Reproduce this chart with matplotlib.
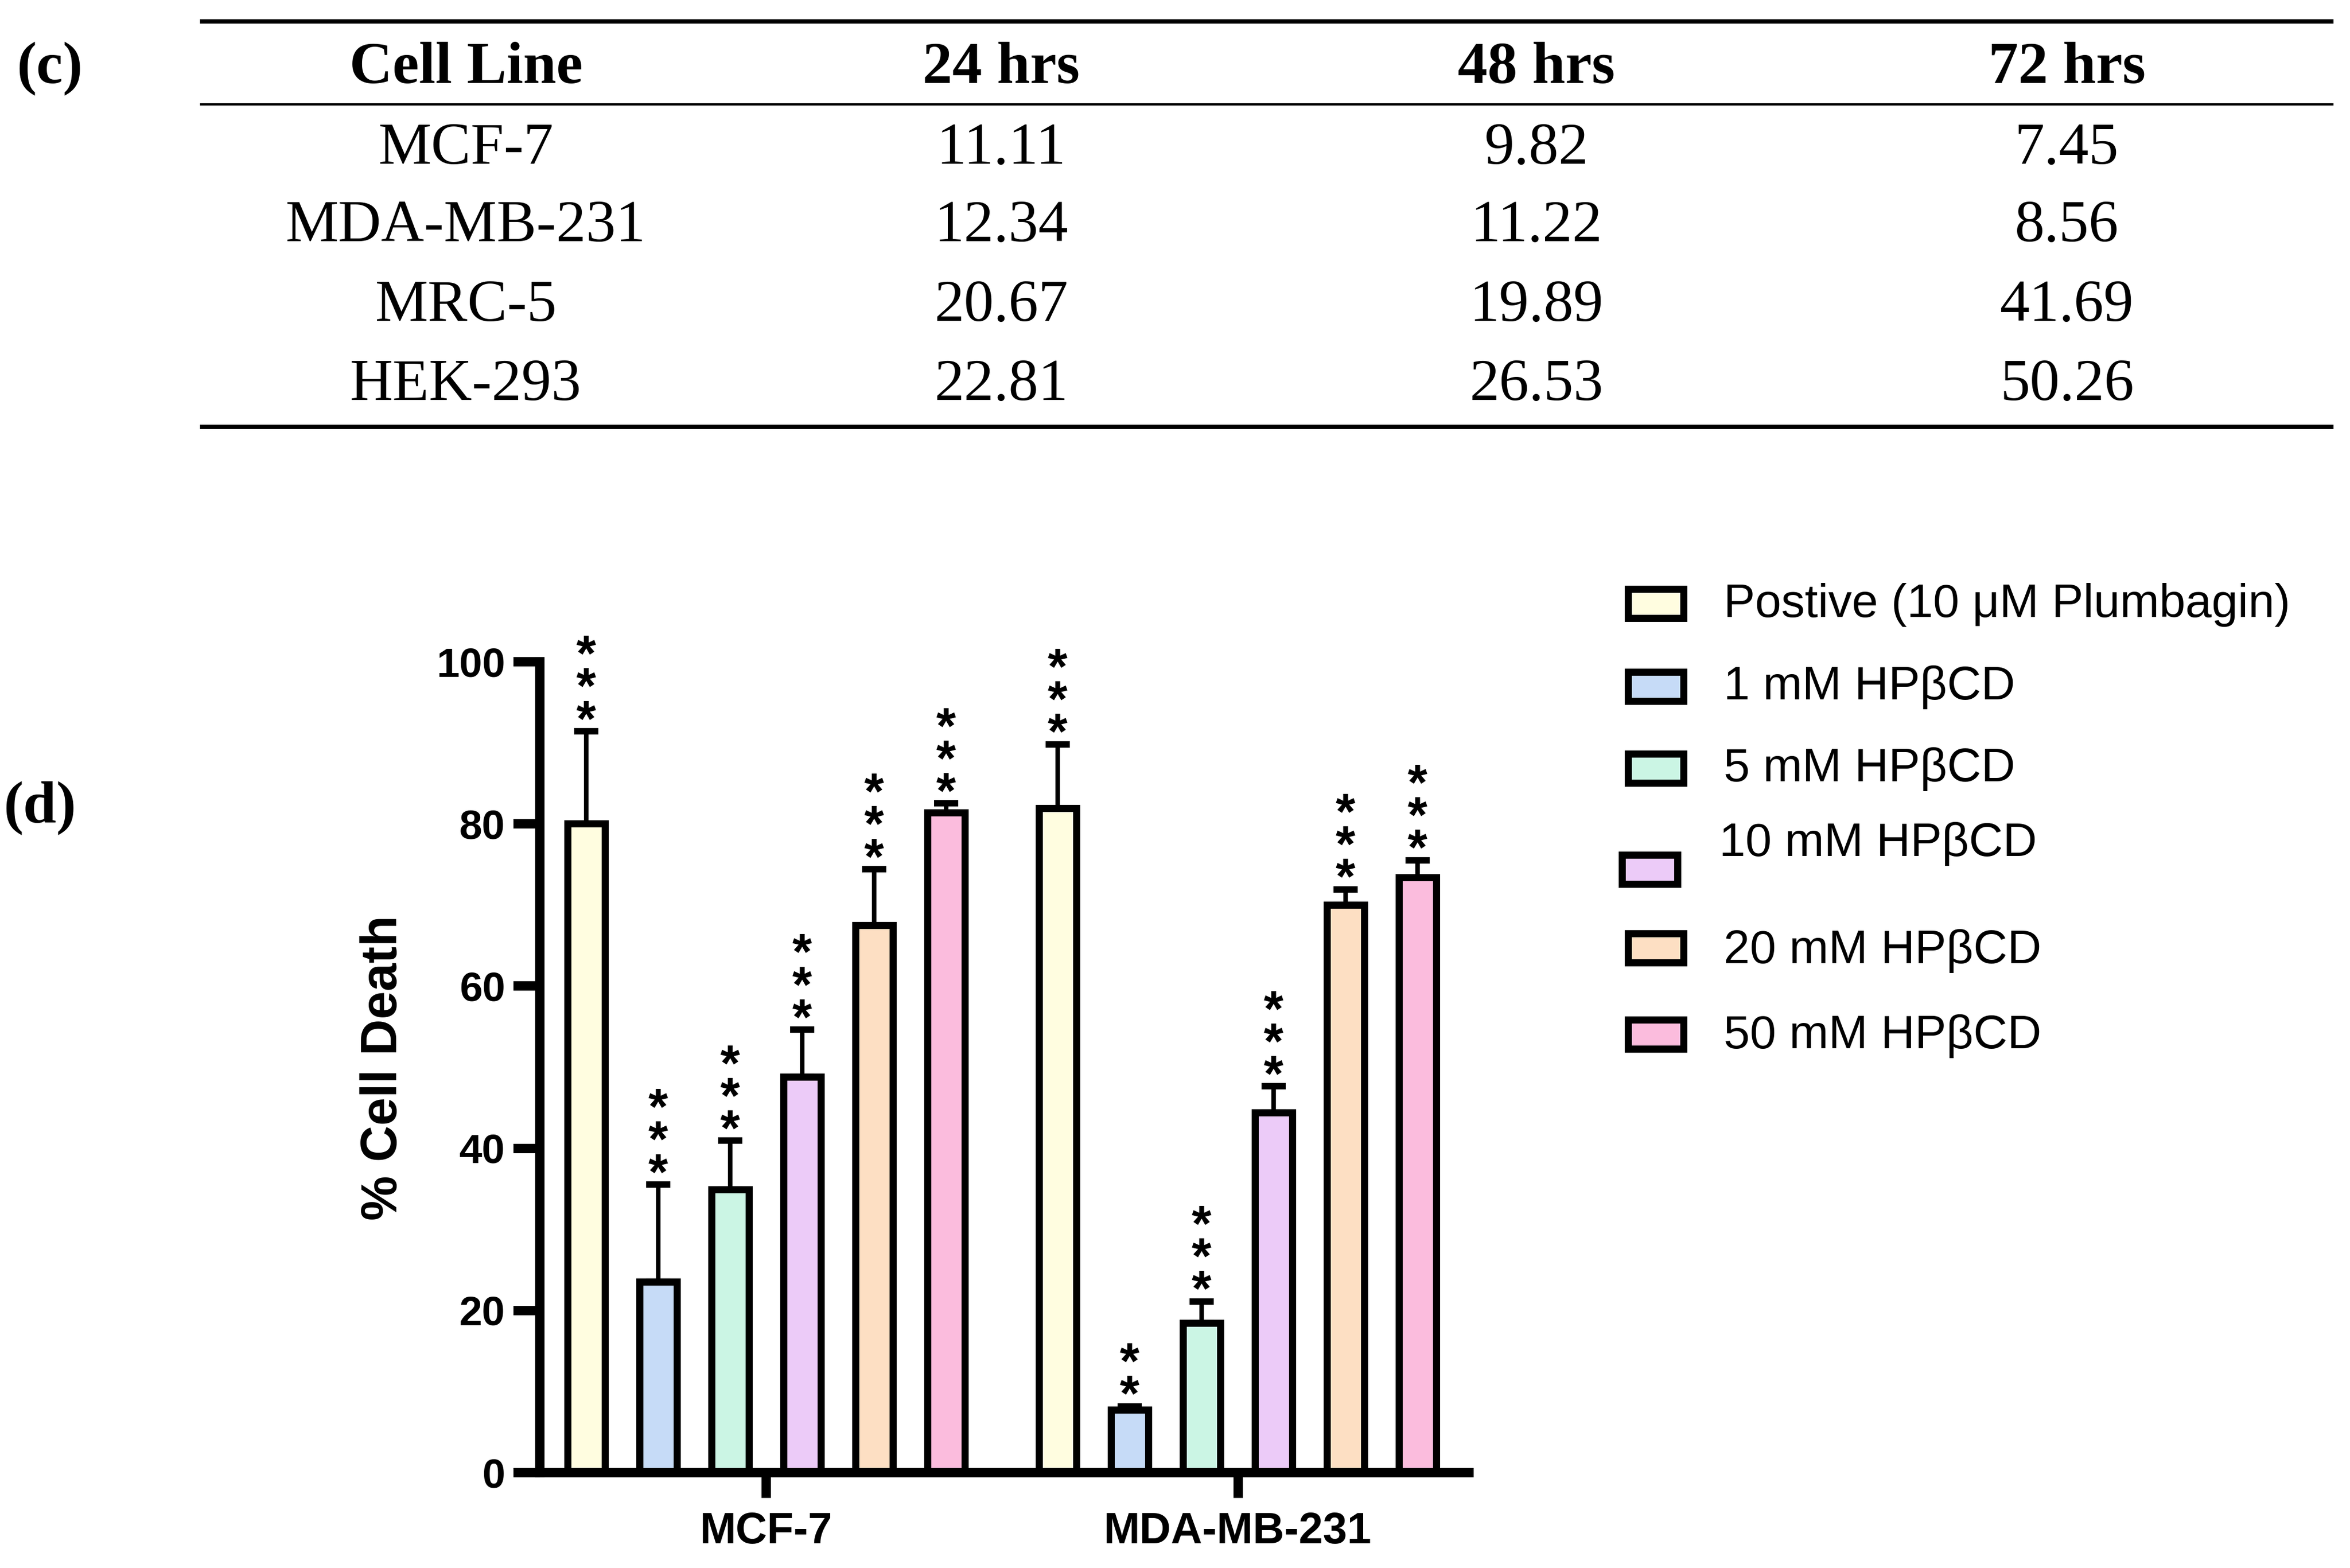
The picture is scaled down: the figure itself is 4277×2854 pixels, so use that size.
import numpy as np
import matplotlib
matplotlib.use("Agg")
import matplotlib.pyplot as plt
from matplotlib.lines import Line2D
from matplotlib.patches import Rectangle

# ---------------- data ----------------
table_header = ["Cell Line", "24 hrs", "48 hrs", "72 hrs"]
table_cells = ["MCF-7", "MDA-MB-231", "MRC-5", "HEK-293"]
ic50_24 = ["11.11", "12.34", "20.67", "22.81"]
ic50_48 = ["9.82", "11.22", "19.89", "26.53"]
ic50_72 = ["7.45", "8.56", "41.69", "50.26"]

groups = ["MCF-7", "MDA-MB-231"]
treatments = ["Postive (10 \u03bcM Plumbagin)", "1 mM HP\u03b2CD", "5 mM HP\u03b2CD",
              "10 mM HP\u03b2CD", "20 mM HP\u03b2CD", "50 mM HP\u03b2CD"]
mcf7_mean = [80.0, 23.5, 34.9, 48.8, 67.5, 81.4]
mcf7_err = [11.4, 12.0, 6.0, 5.8, 6.9, 1.1]
mda_mean = [81.9, 7.7, 18.4, 44.4, 70.0, 73.4]
mda_err = [7.9, 0.45, 2.7, 3.2, 1.9, 2.1]
mcf7_stars = [3, 3, 3, 3, 3, 3]
mda_stars = [3, 2, 3, 3, 3, 3]
colors = ["#FFFDE0", "#C6DBF7", "#CBF5E4", "#ECCBF8", "#FDDFC3", "#FBBCDD"]

W, H = 4277, 2854
DPI = 300
fig = plt.figure(figsize=(W / DPI, H / DPI), dpi=DPI)

def fx(px):
    return px / W

def fy(py):
    return 1 - py / H

# ---------------- table (c) ----------------
serif = ["Liberation Serif", "DejaVu Serif"]
sans = ["Liberation Sans", "DejaVu Sans"]
tfs = 26
for y, lw in [(39, 1.9), (190, 1.0), (777, 1.9)]:
    fig.add_artist(Line2D([fx(364), fx(4247)], [fy(y), fy(y)], color="black",
                          lw=lw, transform=fig.transFigure, solid_capstyle="butt"))
col_x = [848, 1822, 2796, 3762]
for cx, h in zip(col_x, table_header):
    fig.text(fx(cx), fy(125), h, ha="center", va="center", fontsize=tfs,
             fontweight="bold", family=serif)
row_y = [272, 413, 558, 702]
for i, ry in enumerate(row_y):
    vals = [table_cells[i], ic50_24[i], ic50_48[i], ic50_72[i]]
    for cx, v in zip(col_x, vals):
        fig.text(fx(cx), fy(ry), v, ha="center", va="center", fontsize=tfs, family=serif)
fig.text(fx(90), fy(125), "(c)", ha="center", va="center", fontsize=tfs,
         fontweight="bold", family=serif)
fig.text(fx(72), fy(1471), "(d)", ha="center", va="center", fontsize=tfs,
         fontweight="bold", family=serif)

# ---------------- bar chart (d) ----------------
ax = fig.add_axes([fx(982), fy(2680), fx(2673) - fx(982), (2680 - 1204) / H])
group_pos = np.array([0.0, 6.55])
offsets = np.arange(6) - 2.5
bw = 0.52
edge_lw = 3.1
means = [mcf7_mean, mda_mean]
errs = [mcf7_err, mda_err]
stars = [mcf7_stars, mda_stars]
star_fs = 22
for g in range(2):
    xs = group_pos[g] + offsets
    ax.errorbar(xs, means[g], yerr=[np.zeros(6), errs[g]], fmt="none", ecolor="black",
                elinewidth=2.0, capsize=5.3, capthick=2.8, zorder=1)
    ax.bar(xs, means[g], width=bw, color=colors, edgecolor="black", linewidth=edge_lw,
           zorder=2)
    for x, m, e, n in zip(xs, means[g], errs[g], stars[g]):
        ax.annotate("\n".join(["*"] * n), xy=(x, m + e), xytext=(0, -6.5),
                    textcoords="offset points", ha="center", va="bottom",
                    ma="center", linespacing=0.6, fontsize=star_fs,
                    fontweight="bold", family=sans, annotation_clip=False)

ax.set_xlim(-3.149, 9.76)
ax.set_ylim(0, 100)
ax.set_yticks([0, 20, 40, 60, 80, 100])
ax.set_xticks(group_pos)
ax.set_xticklabels(groups)
for s in ["top", "right"]:
    ax.spines[s].set_visible(False)
for s in ["left", "bottom"]:
    ax.spines[s].set_linewidth(4.1)
ax.tick_params(axis="y", direction="out", length=11.5, width=4.1, pad=3.5,
               labelsize=18)
ax.tick_params(axis="x", direction="out", length=11, width=4.1, pad=6,
               labelsize=19)
for lab in ax.get_xticklabels() + ax.get_yticklabels():
    lab.set_fontweight("bold")
    lab.set_family(sans)
ax.set_facecolor("none")

fig.text(fx(698), fy(1944), "% Cell Death", rotation=90, ha="center", va="center",
         fontsize=22, fontweight="bold", family=sans)

# ---------------- legend ----------------
patch_cx = [3013, 3013, 3013, 3002, 3013, 3013]
patch_cy = [1098, 1249, 1398, 1583, 1725, 1882]
text_x = [3137, 3137, 3137, 3129, 3137, 3137]
text_y = [1101, 1251, 1400, 1536, 1731, 1886]
pw, ph = 101, 53
for i in range(6):
    fig.add_artist(Rectangle((fx(patch_cx[i] - pw / 2), fy(patch_cy[i] + ph / 2)),
                             pw / W, ph / H, facecolor=colors[i], edgecolor="black",
                             linewidth=3.1, transform=fig.transFigure))
    fig.text(fx(text_x[i]), fy(text_y[i]), treatments[i], ha="left", va="center",
             fontsize=20.6, family=sans)

fig.savefig("out.png", dpi=DPI, facecolor="white")
